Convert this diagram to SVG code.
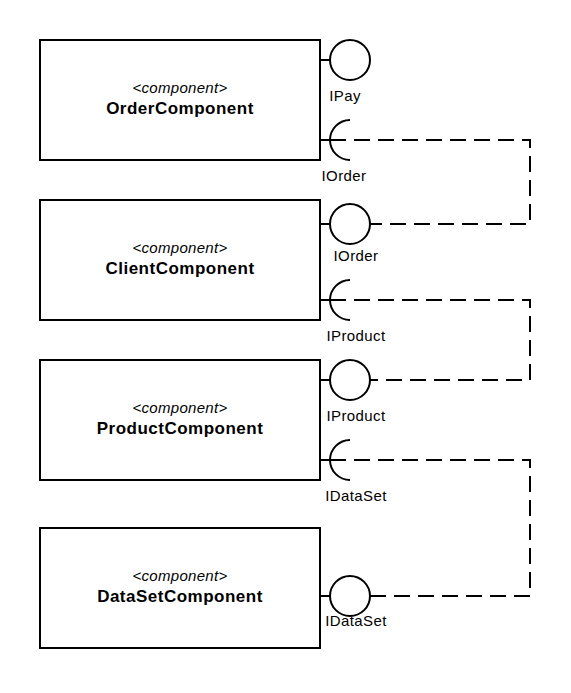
<svg xmlns="http://www.w3.org/2000/svg" width="571" height="693" viewBox="0 0 571 693">
<style>
.box{fill:#fff;stroke:#000;stroke-width:2}
.ln{fill:none;stroke:#000;stroke-width:2}
.dash{fill:none;stroke:#000;stroke-width:2;stroke-dasharray:16 8}
.st{font-family:"Liberation Sans",Arial,sans-serif;font-size:15px;letter-spacing:0.3px;font-style:italic;text-anchor:middle}
.nm{font-family:"Liberation Sans",Arial,sans-serif;font-size:17px;letter-spacing:0.5px;font-weight:bold;text-anchor:middle}
.lb{font-family:"Liberation Sans",Arial,sans-serif;font-size:15px;letter-spacing:0.4px;text-anchor:middle}
</style>
<rect width="571" height="693" fill="#fff"/>
<g id="connectors">
<path class="dash" d="M330 140 H530 V224 H370"/>
<path class="dash" d="M330 300 H530 V380 H370"/>
<path class="dash" d="M330 460 H530 V596 H370"/>
</g>
<g id="OrderComponent">
<rect class="box" x="40" y="40" width="280" height="120"/>
<text class="st" x="180" y="93">&lt;component&gt;</text>
<text class="nm" x="180" y="114">OrderComponent</text>
</g>
<g id="ClientComponent">
<rect class="box" x="40" y="200" width="280" height="120"/>
<text class="st" x="180" y="253">&lt;component&gt;</text>
<text class="nm" x="180" y="274">ClientComponent</text>
</g>
<g id="ProductComponent">
<rect class="box" x="40" y="360" width="280" height="120"/>
<text class="st" x="180" y="413">&lt;component&gt;</text>
<text class="nm" x="180" y="434">ProductComponent</text>
</g>
<g id="DataSetComponent">
<rect class="box" x="40" y="528" width="280" height="120"/>
<text class="st" x="180" y="581">&lt;component&gt;</text>
<text class="nm" x="180" y="602">DataSetComponent</text>
</g>
<g id="IPay-provided">
<path class="ln" d="M320 60 H330"/>
<circle class="box" cx="350" cy="60" r="20"/>
<text class="lb" x="345" y="101">IPay</text>
</g>
<g id="IOrder-required">
<path class="ln" d="M320 140 H330"/>
<path class="ln" d="M350 120 A20 20 0 0 0 350 160"/>
<text class="lb" x="344" y="181">IOrder</text>
</g>
<g id="IOrder-provided">
<path class="ln" d="M320 224 H330"/>
<circle class="box" cx="350" cy="224" r="20"/>
<text class="lb" x="356" y="261">IOrder</text>
</g>
<g id="IProduct-required">
<path class="ln" d="M320 300 H330"/>
<path class="ln" d="M350 280 A20 20 0 0 0 350 320"/>
<text class="lb" x="356" y="341">IProduct</text>
</g>
<g id="IProduct-provided">
<path class="ln" d="M320 380 H330"/>
<circle class="box" cx="350" cy="380" r="20"/>
<text class="lb" x="356" y="421">IProduct</text>
</g>
<g id="IDataSet-required">
<path class="ln" d="M320 460 H330"/>
<path class="ln" d="M350 440 A20 20 0 0 0 350 480"/>
<text class="lb" x="356" y="501">IDataSet</text>
</g>
<g id="IDataSet-provided">
<path class="ln" d="M320 596 H330"/>
<circle class="box" cx="350" cy="596" r="20"/>
<text class="lb" x="356" y="626">IDataSet</text>
</g>
</svg>
